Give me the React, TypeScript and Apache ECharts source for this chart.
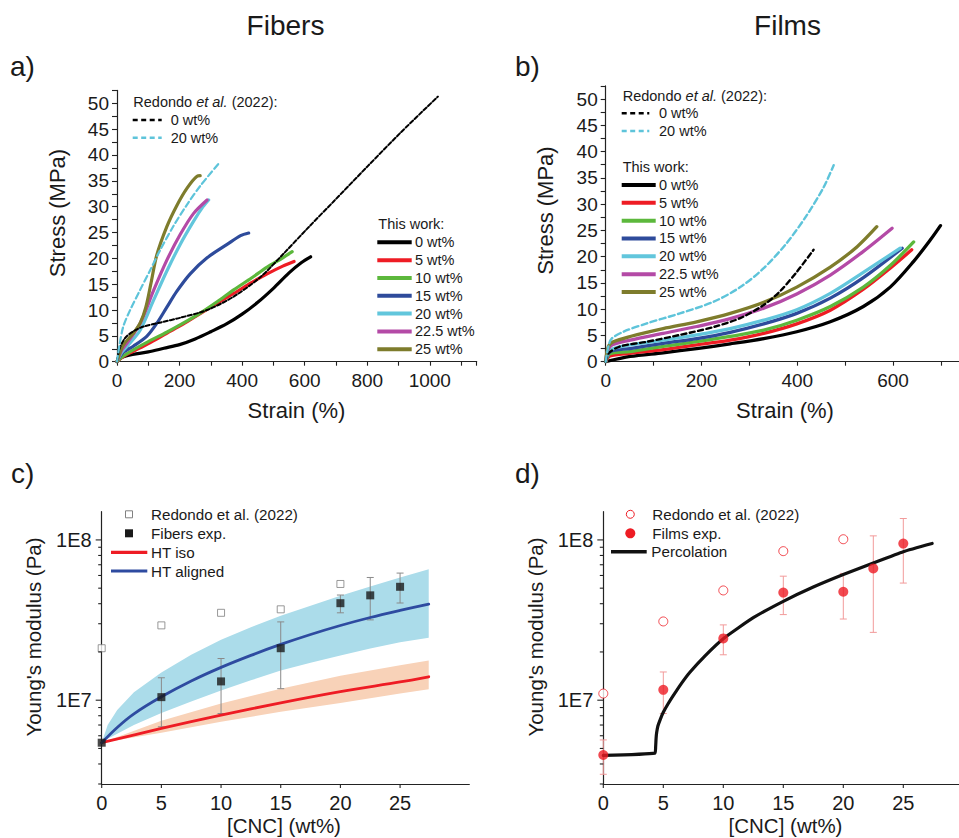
import React, { useEffect, useRef } from 'react';
import * as echarts from 'echarts';

const FONT = '"Liberation Sans", Arial, Helvetica, sans-serif';
const INK = '#1a1a1a';

// ---------- Panel a: Fibers stress-strain (strain %, stress MPa) ----------
const fiberRedondo0 = [[0, 0], [8, 2.5], [25, 4.5], [50, 5.8], [85, 6.8], [140, 7.6], [202, 8.5], [288, 10.0], [373, 12.6], [459, 16.4], [534, 21], [609, 25.8], [694, 31.1], [801, 37.8], [908, 44.4], [1026, 51.3]];
const fiberRedondo20 = [[0, 0], [7, 2.9], [20, 6.8], [42, 10], [74, 13.9], [106, 17.7], [138, 21.6], [181, 26.3], [224, 30.4], [266, 34], [330, 38.7]];
const fiber0 = [[0, 0], [15, 0.8], [50, 1.4], [100, 1.9], [150, 2.6], [200, 3.3], [250, 4.4], [300, 5.8], [350, 7.3], [400, 9.2], [450, 11.5], [500, 14.2], [550, 17.2], [590, 19.2], [619, 20.3]];
const fiber5 = [[0, 0], [20, 1.0], [52, 2.0], [100, 3.5], [159, 5.5], [210, 7.2], [266, 9.3], [320, 11.3], [373, 13.2], [430, 15.3], [480, 17.0], [530, 18.5], [566, 19.4]];
const fiber10 = [[0, 0], [20, 1.1], [52, 2.3], [100, 3.9], [159, 5.7], [210, 7.4], [266, 9.4], [320, 11.6], [373, 13.9], [430, 16.2], [480, 18.3], [530, 20.1], [560, 21.3]];
const fiber15 = [[0, 0], [20, 1.8], [52, 3.0], [95, 4.9], [127, 7.4], [159, 10.5], [191, 13.6], [234, 17.0], [288, 20.1], [352, 22.7], [395, 24.4], [421, 24.9]];
const fiber20 = [[0, 0], [15, 1.8], [31, 2.9], [74, 6.1], [117, 11.9], [159, 17.5], [202, 22.7], [245, 27.2], [275, 30], [293, 31.3]];
const fiber225 = [[0, 0], [15, 2.2], [31, 3.5], [74, 7.4], [117, 13.8], [159, 19.6], [202, 24.6], [245, 28.7], [288, 31.3]];
const fiber25 = [[0, 0], [20, 3.2], [52, 5.5], [75, 7.6], [92, 10.5], [108, 15], [127, 20.6], [159, 26.1], [191, 30.2], [224, 33.6], [256, 35.9], [266, 36]];

// ---------- Panel b: Films stress-strain ----------
const filmRedondo0 = [[0, 0], [6, 1.6], [30, 2.9], [86, 3.8], [155, 5.1], [225, 6.6], [281, 8.3], [330, 10.8], [364, 13.4], [399, 17.1], [434, 21.3]];
const filmRedondo20 = [[0, 0], [5.6, 2.9], [12.5, 4.4], [37, 5.7], [86, 7.3], [155, 9.2], [225, 11.4], [281, 14.2], [330, 17.8], [378, 22.6], [420, 27.9], [455, 33.2], [476, 37.4]];
const film0 = [[0, 0], [51, 1.0], [120, 1.7], [190, 2.5], [260, 3.4], [330, 4.4], [399, 5.7], [469, 7.6], [538, 10.5], [594, 14.2], [643, 19.1], [678, 23.2], [699, 25.9]];
const film5 = [[0, 0], [9, 1.1], [51, 1.6], [120, 2.3], [190, 3.2], [260, 4.1], [330, 5.4], [399, 7.2], [469, 9.8], [538, 13.8], [594, 17.8], [639, 21.3]];
const film10 = [[0, 0], [9, 1.5], [51, 1.9], [120, 2.9], [190, 3.8], [260, 4.8], [330, 6.0], [399, 7.9], [469, 10.5], [538, 14.2], [594, 18.3], [643, 22.8]];
const film15 = [[0, 0], [9, 1.9], [51, 2.5], [120, 3.5], [190, 4.4], [260, 5.6], [330, 7.2], [399, 9.2], [469, 12.1], [538, 16.0], [619, 21.6]];
const film20 = [[0, 0], [9, 2.2], [51, 3.2], [120, 4.1], [190, 5.1], [260, 6.3], [330, 7.9], [399, 9.9], [469, 13], [538, 17.0], [615, 21.6]];
const film225 = [[0, 0], [9, 2.9], [51, 4.1], [120, 5.4], [190, 6.7], [260, 8.2], [330, 10.2], [399, 12.9], [469, 16.5], [538, 21.0], [598, 25.4]];
const film25 = [[0, 0], [5.6, 2.9], [16, 3.8], [51, 4.8], [120, 6.3], [190, 7.6], [260, 9.2], [330, 11.3], [399, 14.2], [469, 18.0], [525, 21.9], [566, 25.7]];

const wtLabels = ['0 wt%', '5 wt%', '10 wt%', '15 wt%', '20 wt%', '22.5 wt%', '25 wt%'];
const workColors = ['#000000', '#ee1c24', '#5cb83c', '#2e4b9b', '#62c6dc', '#b44aa6', '#7e7c2c'];
const redondoColors = ['#000000', '#5ec4da'];
const fiberWork = [fiber0, fiber5, fiber10, fiber15, fiber20, fiber225, fiber25];
const filmWork = [film0, film5, film10, film15, film20, film225, film25];

// ---------- Panel c: Fibers Young's modulus ----------
const cncX = [0, 5, 10, 15, 20, 22.5, 25];
const fibersExp = [5.43e6, 1.045e7, 1.31e7, 2.11e7, 4.03e7, 4.51e7, 5.1e7];
const fibersLow = [null, 6.82e6, 8.26e6, 1.18e7, 3.51e7, 3.17e7, 4.04e7];
const fibersHigh = [null, 1.38e7, 1.82e7, 3.08e7, 4.53e7, 5.83e7, 6.21e7];
const redondoX = [0, 5, 10, 15, 20];
const fibersRedondo = [2.11e7, 2.93e7, 3.51e7, 3.69e7, 5.31e7];
const alignedX = [0, 1.3, 2.7, 5, 7.5, 10, 12.5, 15, 17.5, 20, 22.5, 25, 27.4];
const htAligned = [5.43e6, 6.76e6, 8.22e6, 1.05e7, 1.318e7, 1.603e7, 1.905e7, 2.228e7, 2.57e7, 2.924e7, 3.281e7, 3.631e7, 3.98e7];
const bandX = [0, 0.5, 1.3, 2.7, 5, 7.5, 10, 12.5, 15, 17.5, 20, 22.5, 25, 27.4];
const alignedUpper = [5.43e6, 7.0e6, 8.7e6, 1.12e7, 1.49e7, 1.92e7, 2.38e7, 2.85e7, 3.37e7, 3.89e7, 4.49e7, 5.12e7, 5.83e7, 6.57e7];
const alignedLower = [5.43e6, 5.75e6, 6.17e6, 7.0e6, 8.32e6, 9.8e6, 1.15e7, 1.33e7, 1.53e7, 1.71e7, 1.9e7, 2.1e7, 2.3e7, 2.45e7];
const isoX = [0, 5, 10, 15, 20, 25, 27.4];
const htIso = [5.43e6, 6.67e6, 8.07e6, 9.62e6, 1.13e7, 1.3e7, 1.4e7];
const isoUpper = [5.43e6, 7.45e6, 9.53e6, 1.18e7, 1.42e7, 1.65e7, 1.77e7];
const isoLower = [5.43e6, 6.27e6, 7.33e6, 8.47e6, 9.62e6, 1.1e7, 1.17e7];

// ---------- Panel d: Films Young's modulus ----------
const filmsExp = [4.55e6, 1.16e7, 2.43e7, 4.69e7, 4.75e7, 6.64e7, 9.49e7];
const filmsLow = [3.45e6, 8.26e6, 1.92e7, 3.42e7, 3.21e7, 2.65e7, 5.38e7];
const filmsHigh = [5.65e6, 1.5e7, 2.95e7, 5.94e7, 6.18e7, 1.06e8, 1.36e8];
const filmsRedondo = [1.1e7, 3.1e7, 4.84e7, 8.51e7, 1.01e8];
const percX = [0, 4.3, 4.36, 4.4, 4.45, 4.55, 4.75, 5.0, 5.4, 5.8, 6.5, 7.2, 8.5, 10, 12.5, 15, 17.5, 20, 22.5, 25, 27.4];
const percY = [4.52e6, 4.67e6, 5.1e6, 5.8e6, 6.3e6, 6.9e6, 7.6e6, 8.4e6, 9.5e6, 1.06e7, 1.27e7, 1.49e7, 1.9e7, 2.42e7, 3.27e7, 4.14e7, 5.08e7, 6.08e7, 7.18e7, 8.45e7, 9.5e7];

// ticks
const cncTicks = [0, 5, 10, 15, 20, 25];
const logMajor = [1e7, 1e8];
const logMinor = [3e6, 4e6, 5e6, 6e6, 7e6, 8e6, 9e6, 2e7, 3e7, 4e7, 5e7, 6e7, 7e7, 8e7, 9e7];

const zip = (xs: number[], ys: (number | null)[]) => xs.map((x, i) => [x, ys[i]]);

function tickSeries(gi: number, values: number[], dir: 'x' | 'y', len: number, anchor: number) {
  return {
    type: 'custom', xAxisIndex: gi, yAxisIndex: gi, silent: true, clip: false, z: 6,
    data: values.map(v => (dir === 'x' ? [v, anchor] : [anchor, v])),
    renderItem: (_p: any, api: any) => {
      const p = api.coord([api.value(0), api.value(1)]);
      const shape = dir === 'x'
        ? { x1: p[0], y1: p[1], x2: p[0], y2: p[1] + len }
        : { x1: p[0] - len, y1: p[1], x2: p[0], y2: p[1] };
      return { type: 'line', shape, style: { stroke: '#222', lineWidth: 1.1 } };
    },
  };
}

function errorSeries(gi: number, xs: number[], lo: (number | null)[], hi: (number | null)[], color: string, cap: number) {
  const data = xs.map((x, i) => [x, lo[i], hi[i]]).filter(d => d[1] != null);
  return {
    type: 'custom', xAxisIndex: gi, yAxisIndex: gi, silent: true, clip: false, z: 3,
    data, encode: { x: 0, y: [1, 2] },
    renderItem: (_p: any, api: any) => {
      const x = api.value(0);
      const a = api.coord([x, api.value(1)]);
      const b = api.coord([x, api.value(2)]);
      const st = { stroke: color, lineWidth: 1 };
      return {
        type: 'group', children: [
          { type: 'line', shape: { x1: a[0], y1: a[1], x2: b[0], y2: b[1] }, style: st },
          { type: 'line', shape: { x1: a[0] - cap, y1: a[1], x2: a[0] + cap, y2: a[1] }, style: st },
          { type: 'line', shape: { x1: b[0] - cap, y1: b[1], x2: b[0] + cap, y2: b[1] }, style: st },
        ],
      };
    },
  };
}

function bandSeries(gi: number, xs: number[], lo: number[], hi: number[], color: string) {
  return {
    type: 'custom', xAxisIndex: gi, yAxisIndex: gi, silent: true, z: 1,
    data: xs.map((x, i) => [x, lo[i], hi[i]]), encode: { x: 0, y: [1, 2] },
    renderItem: (params: any, api: any) => {
      if (params.dataIndex !== 0) return { type: 'group', children: [] };
      const top = xs.map((x, i) => api.coord([x, hi[i]]));
      const bot = xs.map((x, i) => api.coord([x, lo[i]])).reverse();
      return { type: 'polygon', shape: { points: top.concat(bot) }, style: { fill: color } };
    },
  };
}

const lineSeries = (gi: number, name: string, data: number[][], color: string, width: number, dash?: number[], z = 2, smooth: number | boolean = 0.3) => ({
  type: 'line', name, xAxisIndex: gi, yAxisIndex: gi, data, showSymbol: false, symbol: 'none',
  smooth, z, silent: true,
  lineStyle: { color, width, type: dash ? dash : 'solid', cap: 'round', join: 'round' },
});

const txt = (x: number, y: number, text: string, size: number, align = 'left', rotation = 0) => ({
  type: 'text', x, y, rotation, silent: true,
  style: {
    text, fontSize: size, fontFamily: FONT, fill: INK,
    textAlign: align, align, textVerticalAlign: 'middle', verticalAlign: 'middle',
  },
});
const seg = (x1: number, x2: number, y: number, color: string, width: number, dash?: number[]) => ({
  type: 'line', silent: true, shape: { x1, y1: y, x2, y2: y },
  style: { stroke: color, lineWidth: width, lineDash: dash },
});
const richHeader = (x: number, y: number, size: number) => ({
  type: 'text', x, y, silent: true,
  style: {
    text: '{n|Redondo }{i|et al.}{n| (2022):}', fontSize: size, fontFamily: FONT, fill: INK,
    textVerticalAlign: 'middle', verticalAlign: 'middle',
    rich: {
      n: { fontSize: size, fontFamily: FONT, fill: INK, color: INK },
      i: { fontSize: size, fontFamily: FONT, fontStyle: 'italic', fill: INK, color: INK },
    },
  },
});

const valueLabel = (size: number, margin: number, fmt: (v: number) => string) => ({
  fontSize: size, fontFamily: FONT, color: INK, margin, formatter: fmt,
});
const axisLine = { show: true, onZero: false, lineStyle: { color: '#222', width: 1.2 } };

function buildOption() {
  const legendA: any[] = [
    richHeader(133.3, 101.7, 14.5),
    seg(132.7, 161.7, 120, redondoColors[0], 2.5, [5, 3.5]), txt(170.7, 120, '0 wt%', 14.5),
    seg(132.7, 161.7, 137.7, redondoColors[1], 2.5, [5, 3.5]), txt(170.7, 137.7, '20 wt%', 14.5),
    txt(378.3, 224.3, 'This work:', 14.5),
  ];
  wtLabels.forEach((l, i) => {
    const y = 242.3 + i * 17.83;
    legendA.push(seg(377.3, 411.7, y, workColors[i], 4), txt(415, y, l, 14.5));
  });
  const legendB: any[] = [
    richHeader(622.7, 95.7, 14.5),
    seg(621.7, 649.3, 113.3, redondoColors[0], 2.5, [5, 3.5]), txt(659, 113.3, '0 wt%', 14.5),
    seg(621.7, 649.3, 131, redondoColors[1], 2.5, [5, 3.5]), txt(659, 131, '20 wt%', 14.5),
    txt(622.7, 167.3, 'This work:', 14.5),
  ];
  wtLabels.forEach((l, i) => {
    const y = 185 + i * 17.83;
    legendB.push(seg(621.7, 655.7, y, workColors[i], 4), txt(659, y, l, 14.5));
  });
  const legendC: any[] = [
    { type: 'rect', silent: true, shape: { x: 125.5, y: 510.8, width: 7, height: 7 }, style: { fill: '#fff', stroke: '#808080', lineWidth: 1 } },
    txt(151, 514.3, 'Redondo et al. (2022)', 15.2),
    { type: 'rect', silent: true, shape: { x: 125, y: 529.3, width: 8, height: 8 }, style: { fill: INK } },
    txt(151, 533.3, 'Fibers exp.', 15.2),
    seg(111, 147.3, 552.3, '#ee1c24', 3.2), txt(151, 552.3, 'HT iso', 15.2),
    seg(111, 147.3, 571, '#2e4ba0', 3.2), txt(151, 571, 'HT aligned', 15.2),
  ];
  const legendD: any[] = [
    { type: 'circle', silent: true, shape: { cx: 630.3, cy: 514.3, r: 4 }, style: { fill: '#fff', stroke: '#ee1c24', lineWidth: 1 } },
    txt(652.3, 514.3, 'Redondo et al. (2022)', 15.2),
    { type: 'circle', silent: true, shape: { cx: 630.3, cy: 533.3, r: 5 }, style: { fill: '#ee1c24' } },
    txt(652.3, 533.3, 'Films exp.', 15.2),
    seg(611, 646.7, 551.7, '#111', 3.5), txt(651.3, 551.7, 'Percolation', 15.2),
  ];

  const graphic = [
    txt(285.5, 25, 'Fibers', 28, 'center'),
    txt(787.5, 25, 'Films', 28, 'center'),
    txt(10, 66, 'a)', 28), txt(515, 66, 'b)', 28),
    txt(11, 473, 'c)', 28), txt(515, 473, 'd)', 28),
    txt(57, 213, 'Stress (MPa)', 22, 'center', Math.PI / 2),
    txt(296.5, 410, 'Strain (%)', 22, 'center'),
    txt(545, 210.5, 'Stress (MPa)', 22, 'center', Math.PI / 2),
    txt(785, 410, 'Strain (%)', 22, 'center'),
    txt(33, 637, "Young's modulus (Pa)", 20.5, 'center', Math.PI / 2),
    txt(284, 825, '[CNC] (wt%)', 20.5, 'center'),
    txt(535, 637, "Young's modulus (Pa)", 20.5, 'center', Math.PI / 2),
    txt(785.5, 825, '[CNC] (wt%)', 20.5, 'center'),
    ...legendA, ...legendB, ...legendC, ...legendD,
  ];

  const stressY = (gi: number) => ({
    gridIndex: gi, type: 'value', min: 0, max: 52.5, interval: 2.5,
    axisLine, splitLine: { show: false },
    axisTick: { show: true, inside: false, length: 5, lineStyle: { color: '#222', width: 1.1 } },
    axisLabel: valueLabel(19, 8, (v: number) => (Math.abs(v % 5) < 1e-6 ? String(v) : '')),
  });
  const strainX = (gi: number, max: number, lastLabel: number) => ({
    gridIndex: gi, type: 'value', min: 0, max, interval: 100,
    axisLine, splitLine: { show: false },
    axisTick: { show: true, inside: false, length: 4, lineStyle: { color: '#222', width: 1.1 } },
    axisLabel: valueLabel(19, 9, (v: number) => (Math.abs(v % 200) < 1e-6 && v <= lastLabel ? String(v) : '')),
  });
  const cncXAxis = (gi: number, max: number) => ({
    gridIndex: gi, type: 'value', min: 0, max, interval: 5,
    axisLine, splitLine: { show: false }, axisTick: { show: false },
    axisLabel: valueLabel(20, 8.5, (v: number) => (v <= 25 && Math.abs(v % 5) < 1e-6 ? String(v) : '')),
  });
  const logY = (gi: number) => ({
    gridIndex: gi, type: 'log', logBase: 10, min: 3e6, max: 1.5e8,
    axisLine, splitLine: { show: false }, axisTick: { show: false }, minorTick: { show: false },
    axisLabel: valueLabel(20, 10, (v: number) => {
      const l = Math.log10(v);
      return Math.abs(l - Math.round(l)) < 1e-6 ? '1E' + Math.round(l) : '';
    }),
  });

  const series: any[] = [];
  // panel a
  fiberWork.forEach((d, i) => series.push(lineSeries(0, 'Fibers ' + wtLabels[i], d, workColors[i], 3.2, undefined, 2 + i * 0.01)));
  series.push(lineSeries(0, 'Fibers Redondo 0 wt%', fiberRedondo0, redondoColors[0], 2, [4, 2.2], 3));
  series.push(lineSeries(0, 'Fibers Redondo 20 wt%', fiberRedondo20, redondoColors[1], 2.2, [6, 3.5], 3));
  // panel b
  filmWork.forEach((d, i) => series.push(lineSeries(1, 'Films ' + wtLabels[i], d, workColors[i], 3.3, undefined, 2 + i * 0.01)));
  series.push(lineSeries(1, 'Films Redondo 0 wt%', filmRedondo0, redondoColors[0], 2.4, [5, 3.5], 3));
  series.push(lineSeries(1, 'Films Redondo 20 wt%', filmRedondo20, redondoColors[1], 2.4, [6, 3.5], 3));
  // panel c
  series.push(bandSeries(2, bandX, alignedLower, alignedUpper, '#abdcea'));
  series.push(bandSeries(2, isoX, isoLower, isoUpper, '#f8d2b8'));
  series.push(lineSeries(2, 'HT iso', zip(isoX, htIso) as number[][], '#ee1c24', 2.8, undefined, 4, 0.3));
  series.push(lineSeries(2, 'HT aligned', zip(alignedX, htAligned) as number[][], '#2e4ba0', 2.8, undefined, 4, 0.3));
  series.push(errorSeries(2, cncX, fibersLow, fibersHigh, '#8a8a8a', 3.5));
  series.push({
    type: 'scatter', name: 'Redondo et al. (2022) fibers', xAxisIndex: 2, yAxisIndex: 2, clip: true, z: 5, silent: true,
    data: zip(redondoX, fibersRedondo), symbol: 'rect', symbolSize: 7,
    itemStyle: { color: '#ffffff', borderColor: '#808080', borderWidth: 1 },
  });
  series.push({
    type: 'scatter', name: 'Fibers exp.', xAxisIndex: 2, yAxisIndex: 2, clip: false, z: 5, silent: true,
    data: zip(cncX, fibersExp), symbol: 'rect', symbolSize: 8, itemStyle: { color: INK },
  });
  series.push(tickSeries(2, cncTicks, 'x', 4, 3e6));
  series.push(tickSeries(2, logMajor, 'y', 6, 0));
  series.push(tickSeries(2, logMinor, 'y', 3.5, 0));
  // panel d
  series.push(errorSeries(3, cncX, filmsLow, filmsHigh, '#f29a9a', 3.5));
  series.push(lineSeries(3, 'Percolation', zip(percX, percY) as number[][], '#111', 3.2, undefined, 4, 0.15));
  series.push({
    type: 'scatter', name: 'Redondo et al. (2022) films', xAxisIndex: 3, yAxisIndex: 3, clip: true, z: 5, silent: true,
    data: zip(redondoX, filmsRedondo), symbol: 'circle', symbolSize: 9,
    itemStyle: { color: '#ffffff', borderColor: '#ee1c24', borderWidth: 1 },
  });
  series.push({
    type: 'scatter', name: 'Films exp.', xAxisIndex: 3, yAxisIndex: 3, clip: false, z: 5, silent: true,
    data: zip(cncX, filmsExp), symbol: 'circle', symbolSize: 10, itemStyle: { color: '#ee1c24' },
  });
  series.push(tickSeries(3, cncTicks, 'x', 4, 3e6));
  series.push(tickSeries(3, logMajor, 'y', 6, 0));
  series.push(tickSeries(3, logMinor, 'y', 3.5, 0));

  const g = (left: number, top: number, width: number, height: number) => ({
    left, top, width, height, containLabel: false, outerBoundsMode: 'none', show: false,
  });

  return {
    animation: false,
    backgroundColor: '#ffffff',
    textStyle: { fontFamily: FONT },
    grid: [
      g(117, 90.4, 359.7, 271.3),
      g(605.7, 85.9, 359.2, 275.8),
      g(101.7, 511.7, 367.6, 272.3),
      g(603.3, 511.7, 360, 272.3),
    ],
    xAxis: [strainX(0, 1150, 1000), strainX(1, 750, 600), cncXAxis(2, 30.8), cncXAxis(3, 30)],
    yAxis: [stressY(0), stressY(1), logY(2), logY(3)],
    series,
    graphic,
  };
}

export default function App() {
  const ref = useRef<HTMLDivElement>(null);
  useEffect(() => {
    if (!ref.current) return;
    const chart = echarts.init(ref.current, undefined, { renderer: 'svg' });
    chart.setOption(buildOption() as any);
    return () => chart.dispose();
  }, []);
  return (
    <div
      ref={ref}
      style={{ position: 'absolute', left: 0, top: 0, width: 959, height: 838, background: '#fff' }}
    />
  );
}
